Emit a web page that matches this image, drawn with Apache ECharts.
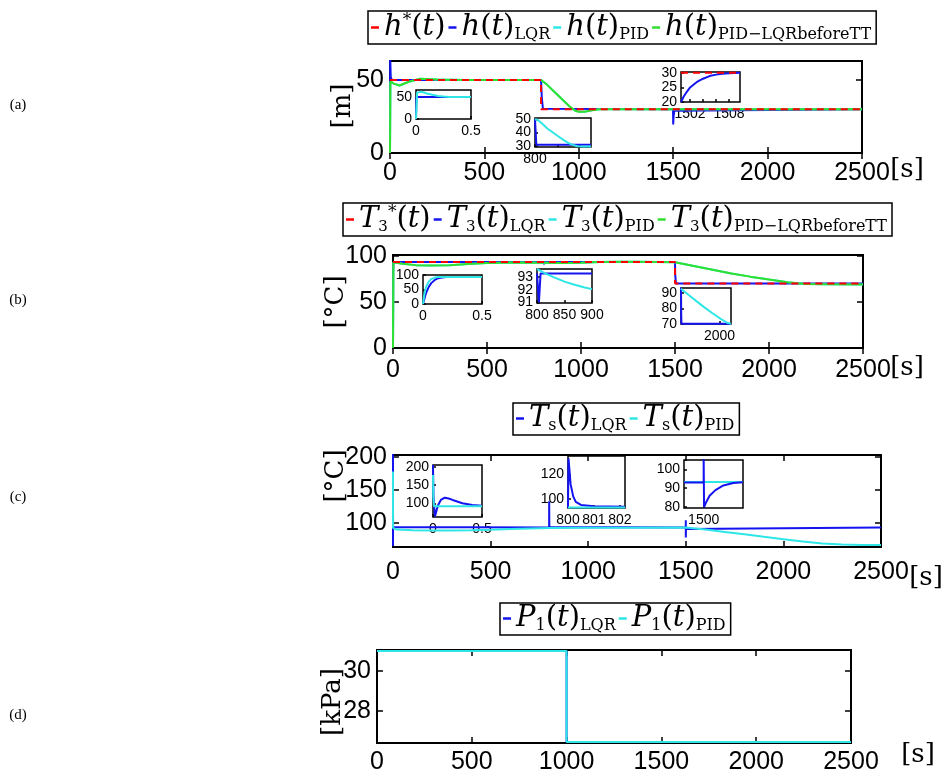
<!DOCTYPE html>
<html><head><meta charset="utf-8">
<script src="https://cdn.jsdelivr.net/npm/echarts@6/dist/echarts.min.js"></script>
<style>html,body{margin:0;padding:0;background:#fff}#c{width:945px;height:779px}</style>
</head><body><div id="c"></div>
<script>
// ================= DATA =================
const mainXTicks = [0, 500, 1000, 1500, 2000, 2500];

// (a) level h [m]
const aRefT = [0, 800, 800, 2500];
const aRefV = [50, 50, 30, 30];
const aLqrT = [0, 1, 4, 10, 800, 804, 810, 1499, 1500, 1502, 1506, 1512, 2500];
const aLqrV = [0, 66, 52, 50, 50, 38, 30.3, 30, 19.5, 25, 29, 30, 30];
const aPidT = [0, 2, 20, 50, 100, 160, 250, 400, 800, 830, 870, 910, 950, 980, 1000, 1030, 1070, 1110, 1200, 2500];
const aPidV = [0, 49, 47.5, 46.2, 48.8, 50.8, 50.3, 50, 50, 47, 42, 37, 32, 29, 28.2, 28.3, 29.2, 29.9, 30, 30];
const aMixT = [0, 2, 20, 50, 100, 160, 250, 400, 800, 830, 870, 910, 950, 980, 1000, 1030, 1070, 1110, 1200, 2500];
const aMixV = [0, 49, 47.5, 46.2, 48.8, 50.8, 50.3, 50, 50, 47, 42, 37, 32, 29, 28.2, 28.3, 29.2, 29.9, 30, 30];
// inset a1 (0 - 0.5 s)
const a1LqrT = [0, 0.004, 0.5];
const a1LqrV = [0, 50, 50];
const a1PidT = [0, 0.01, 0.025, 0.05, 0.1, 0.15, 0.2, 0.25, 0.3, 0.5];
const a1PidV = [0, 60, 64, 62, 58, 55, 52.5, 51, 50.3, 50];
// inset a2 (800 - 1050 s)
const a2LqrT = [800, 803, 806, 1050];
const a2LqrV = [50, 50, 30.7, 30.7];
const a2PidT = [800, 813, 830, 855, 880, 905, 930, 950, 970, 990, 1010, 1050];
const a2PidV = [50, 49.5, 47, 43, 40, 37, 34, 32, 30.5, 29.6, 29.3, 29.4];
// inset a3 (1500.6 - 1509.7 s)
const a3RefT = [1500.6, 1509.7];
const a3RefV = [30, 30];
const a3LqrT = [1500.6, 1501, 1501.5, 1502, 1503, 1504, 1505, 1506, 1507, 1508, 1509.7];
const a3LqrV = [20, 21.8, 23.5, 25, 26.8, 28, 28.9, 29.4, 29.7, 29.85, 30];

// (b) temperature T3 [°C]
const bRefT = [0, 1500, 1500, 2500];
const bRefV = [93.5, 93.5, 70, 70];
const bLqrT = [0, 1, 3, 800, 802, 803, 806, 807, 1500, 1501, 1505, 2500];
const bLqrV = [0, 85, 93.5, 93.5, 93.5, 91, 91, 93.5, 93.5, 80, 70, 70];
const bPidT = [0, 2, 50, 120, 200, 300, 400, 500, 650, 800, 900, 1000, 1100, 1200, 1300, 1400, 1500, 1600, 1700, 1800, 1900, 2000, 2100, 2150, 2200, 2300, 2500];
const bPidV = [0, 93, 91.5, 90, 89.5, 90, 91.2, 92.3, 92.8, 92.5, 92.2, 92.6, 93.3, 93.6, 93.7, 93.5, 93.2, 89, 85, 81, 77.5, 74.3, 71.3, 70.2, 69.5, 69.1, 69];
const bMixT = [0, 2, 50, 120, 200, 300, 400, 500, 650, 800, 900, 1000, 1100, 1200, 1300, 1400, 1500, 1600, 1700, 1800, 1900, 2000, 2100, 2150, 2200, 2300, 2500];
const bMixV = [0, 93, 91.5, 90, 89.5, 90, 91.2, 92.3, 92.8, 92.5, 92.2, 92.6, 93.3, 93.6, 93.7, 93.5, 93.2, 89, 85, 81, 77.5, 74.3, 71.3, 70.2, 69.5, 69.1, 69];
// inset b1 (0 - 0.5 s)
const b1T = [0, 0.01, 0.02, 0.03, 0.05, 0.07, 0.1, 0.13, 0.16, 0.2, 0.3, 0.5];
const b1LqrV = [0, 15, 30, 42, 60, 72, 83, 89, 91.5, 92.8, 93.3, 93.5];
const b1PidV = [0, 30, 50, 63, 78, 86, 91, 92.8, 93.3, 93.5, 93.5, 93.5];
// inset b2 (800 - 900 s)
const b2LqrT = [800, 802.5, 803.5, 805.5, 806.5, 900];
const b2LqrV = [93.3, 93.3, 91.0, 91.0, 93.3, 93.3];
const b2PidT = [800, 803, 815, 830, 850, 870, 885, 900];
const b2PidV = [93.65, 93.6, 93.3, 93.0, 92.65, 92.38, 92.2, 92.05];
// inset b3 (1500 - 2150 s)
const b3LqrT = [1500, 1503, 1506, 2150];
const b3LqrV = [93.3, 75, 70.2, 70.2];
const b3PidT = [1500, 1600, 1700, 1800, 1900, 2000, 2100, 2150];
const b3PidV = [92.5, 88.5, 84.6, 80.8, 77.2, 73.8, 70.8, 70.2];

// (c) temperature Ts [°C]
const cLqrT = [0, 0.02, 0.12, 0.5, 3, 799.9, 800, 801, 802, 1499.9, 1500, 1500.05, 1501, 1503, 2500];
const cLqrV = [205, 65, 115, 94, 93, 93, 133, 94, 93.2, 93, 104, 78, 91, 93, 93];
const cPidT = [0, 0.01, 20, 100, 200, 300, 400, 500, 600, 700, 800, 1000, 1200, 1500, 1600, 1700, 1800, 1900, 2000, 2100, 2200, 2300, 2400, 2500];
const cPidV = [178, 92.7, 90, 89, 88.5, 88.5, 89, 89.8, 90.8, 91.8, 92.3, 92.6, 92.8, 93, 90, 86.5, 83, 79, 75.5, 72, 69, 67.5, 66.8, 66.5];
// inset c1 (0 - 0.5 s)
const c1LqrT = [0, 0.005, 0.02, 0.05, 0.08, 0.12, 0.16, 0.2, 0.3, 0.4, 0.5];
const c1LqrV = [205, 120, 65, 95, 110, 116, 114, 110, 101, 96, 94];
const c1PidT = [0, 0.003, 0.01, 0.5];
const c1PidV = [178, 120, 92.7, 92.7];
// inset c2 (800 - 802.2 s)
const c2LqrT = [800, 800.02, 800.1, 800.2, 800.3, 800.5, 801, 802.2];
const c2LqrV = [93, 133, 112, 102, 97.5, 95, 94, 93.5];
const c2PidT = [800, 802.2];
const c2PidV = [93, 93];
// inset c3 (1499 - 1502 s)
const c3LqrT = [1499, 1500, 1500, 1500.02, 1500.1, 1500.3, 1500.6, 1501, 1501.5, 1502];
const c3LqrV = [93, 93, 105.5, 80, 82, 86, 89, 91.5, 92.8, 93.2];
const c3PidT = [1499, 1502];
const c3PidV = [93.3, 93.3];

// (d) pressure P1 [kPa]
const dT = [0, 1000, 1000, 2500];
const dLqrV = [31.0, 31.0, 26.45, 26.45];
const dPidV = [31.0, 31.0, 26.45, 26.45];

// ================= BUILD =================
const BLUE = '#1414f0', CYAN = '#2fe6e6', GREEN = '#2fe02f', RED = '#ff0000';
const SANS = 'Liberation Sans', SERIF = 'DejaVu Serif';
const grids = [], xAxes = [], yAxes = [], series = [];
const zip = (t, v) => t.map((x, i) => [x, v[i]]);
const fmt = v => String(v);

function panel(p) {
  const gi = grids.length;
  grids.push({ left: p.l, top: p.t, width: p.w, height: p.h, show: true,
    borderColor: '#000', borderWidth: p.main ? 2 : 1.5, backgroundColor: p.main ? 'rgba(0,0,0,0)' : '#fff' });
  const fs = p.main ? 25 : 14, tl = p.main ? 6 : 3;
  const xi = xAxes.length, yi = yAxes.length;
  const xTicks = p.xTicks, yTicks = p.yTicks;
  const lab = (vals, m) => ({ show: true, interval: 0, customValues: vals, formatter: fmt, fontSize: fs, fontFamily: SANS,
    color: '#000', margin: m, showMinLabel: true, showMaxLabel: true, hideOverlap: false, lineHeight: fs });
  const tick = (vals) => ({ show: true, inside: true, length: tl, customValues: vals, lineStyle: { color: '#000', width: 1.5 } });
  xAxes.push({ type: 'value', gridIndex: gi, min: p.xMin, max: p.xMax, position: 'bottom',
    axisLine: { show: false }, splitLine: { show: false }, axisTick: tick(xTicks),
    axisLabel: lab(p.xLabels || xTicks, p.xm) });
  // y labels split over two overlaid axes so that tightly packed inset labels all stay visible
  const yl = p.yLabels || yTicks;
  const yEven = yl.filter((v, i) => i % 2 === 0), yOdd = yl.filter((v, i) => i % 2 === 1);
  yAxes.push({ type: 'value', gridIndex: gi, min: p.yMin, max: p.yMax, position: 'left',
    axisLine: { show: false }, splitLine: { show: false }, axisTick: tick(yTicks),
    axisLabel: lab(yEven, p.ym) });
  if (yOdd.length) {
    yAxes.push({ type: 'value', gridIndex: gi, min: p.yMin, max: p.yMax, position: 'left', offset: 0,
      axisLine: { show: false }, splitLine: { show: false }, axisTick: { show: false },
      axisLabel: lab(yOdd, p.ym) });
  }
  if (p.main) {
    xAxes.push({ type: 'value', gridIndex: gi, min: p.xMin, max: p.xMax, position: 'top',
      axisLine: { show: false }, splitLine: { show: false }, axisLabel: { show: false }, axisTick: tick(xTicks) });
    yAxes.push({ type: 'value', gridIndex: gi, min: p.yMin, max: p.yMax, position: 'right',
      axisLine: { show: false }, splitLine: { show: false }, axisLabel: { show: false }, axisTick: tick(yTicks) });
  }
  return { xi, yi };
}
function line(ax, name, t, v, color, z, dashed) {
  series.push({ type: 'line', name: name, xAxisIndex: ax.xi, yAxisIndex: ax.yi, data: zip(t, v),
    showSymbol: false, symbol: 'none', animation: false, z: z, color: color, clip: true,
    lineStyle: { color: color, width: 2, type: dashed ? [7, 5] : 'solid' }, itemStyle: { color: color } });
}

// ---- panel (a)
const A = panel({ main: true, l: 390, t: 61, w: 472, h: 92, xMin: 0, xMax: 2500, xTicks: mainXTicks, yMin: 0, yMax: 63, yTicks: [0, 50], xm: 8, ym: 6 });
line(A, 'h*(t)', aRefT, aRefV, RED, 6, true);
line(A, 'h(t)LQR', aLqrT, aLqrV, BLUE, 3);
line(A, 'h(t)PID', aPidT, aPidV, CYAN, 4);
line(A, 'h(t)PID-LQRbeforeTT', aMixT, aMixV, GREEN, 5);
const A1 = panel({ l: 416, t: 90, w: 55, h: 29, xMin: 0, xMax: 0.5, xTicks: [0, 0.5], yMin: 0, yMax: 66, yTicks: [0, 50], xm: 5, ym: 4 });
line(A1, 'a1lqr', a1LqrT, a1LqrV, BLUE, 3);
line(A1, 'a1pid', a1PidT, a1PidV, CYAN, 4);
const A2 = panel({ l: 535, t: 118, w: 56, h: 29, xMin: 800, xMax: 1050, xTicks: [800, 900, 1000], xLabels: [800], yMin: 29, yMax: 51, yTicks: [30, 40, 50], xm: 5, ym: 4 });
line(A2, 'a2lqr', a2LqrT, a2LqrV, BLUE, 3);
line(A2, 'a2pid', a2PidT, a2PidV, CYAN, 4);
const A3 = panel({ l: 681, t: 72, w: 59, h: 30, xMin: 1500.6, xMax: 1509.7, xTicks: [1502, 1504, 1506, 1508], xLabels: [1502, 1508], yMin: 20, yMax: 30.3, yTicks: [20, 25, 30], xm: 5, ym: 4 });
line(A3, 'a3lqr', a3LqrT, a3LqrV, BLUE, 3);
line(A3, 'a3ref', a3RefT, a3RefV, RED, 6, true);

// ---- panel (b)
const B = panel({ main: true, l: 393, t: 255, w: 470, h: 93, xMin: 0, xMax: 2500, xTicks: mainXTicks, yMin: 0, yMax: 101, yTicks: [0, 50, 100], xm: 10, ym: 6 });
line(B, 'T3*(t)', bRefT, bRefV, RED, 6, true);
line(B, 'T3(t)LQR', bLqrT, bLqrV, BLUE, 3);
line(B, 'T3(t)PID', bPidT, bPidV, CYAN, 4);
line(B, 'T3(t)PID-LQRbeforeTT', bMixT, bMixV, GREEN, 5);
const B1 = panel({ l: 423, t: 275, w: 59, h: 29, xMin: 0, xMax: 0.5, xTicks: [0, 0.5], yMin: 0, yMax: 100, yTicks: [0, 50, 100], xm: 5, ym: 4 });
line(B1, 'b1lqr', b1T, b1LqrV, BLUE, 3);
line(B1, 'b1pid', b1T, b1PidV, CYAN, 4);
const B2 = panel({ l: 537, t: 269, w: 55, h: 34, xMin: 800, xMax: 900, xTicks: [800, 850, 900], yMin: 90.95, yMax: 93.65, yTicks: [91, 92, 93], xm: 5, ym: 4 });
line(B2, 'b2lqr', b2LqrT, b2LqrV, BLUE, 3);
line(B2, 'b2pid', b2PidT, b2PidV, CYAN, 4);
const B3 = panel({ l: 681, t: 288, w: 50, h: 36, xMin: 1500, xMax: 2150, xTicks: [2000], yMin: 70, yMax: 93, yTicks: [70, 80, 90], xm: 5, ym: 4 });
line(B3, 'b3lqr', b3LqrT, b3LqrV, BLUE, 3);
line(B3, 'b3pid', b3PidT, b3PidV, CYAN, 4);

// ---- panel (c)
const C = panel({ main: true, l: 393, t: 455, w: 488, h: 92, xMin: 0, xMax: 2500, xTicks: mainXTicks, yMin: 63.6, yMax: 203, yTicks: [100, 150, 200], xm: 13, ym: 6 });
line(C, 'Ts(t)LQR', cLqrT, cLqrV, BLUE, 3);
line(C, 'Ts(t)PID', cPidT, cPidV, CYAN, 4);
const C1 = panel({ l: 433, t: 465, w: 49, h: 52, xMin: 0, xMax: 0.5, xTicks: [0, 0.5], yMin: 63.6, yMax: 205, yTicks: [100, 150, 200], xm: 5, ym: 4 });
line(C1, 'c1lqr', c1LqrT, c1LqrV, BLUE, 3);
line(C1, 'c1pid', c1PidT, c1PidV, CYAN, 4);
const C2 = panel({ l: 568, t: 456, w: 57, h: 52, xMin: 800, xMax: 802.2, xTicks: [800, 801, 802], yMin: 92.5, yMax: 135, yTicks: [100, 120], xm: 5, ym: 4 });
line(C2, 'c2lqr', c2LqrT, c2LqrV, BLUE, 3);
line(C2, 'c2pid', c2PidT, c2PidV, CYAN, 4);
const C3 = panel({ l: 684, t: 460, w: 59, h: 48, xMin: 1499, xMax: 1502, xTicks: [1500], yMin: 79.5, yMax: 105, yTicks: [80, 90, 100], xm: 5, ym: 4 });
line(C3, 'c3pid', c3PidT, c3PidV, CYAN, 3);
line(C3, 'c3lqr', c3LqrT, c3LqrV, BLUE, 4);

// ---- panel (d)
const D = panel({ main: true, l: 377, t: 650, w: 474, h: 93, xMin: 0, xMax: 2500, xTicks: mainXTicks, yMin: 26.4, yMax: 31.05, yTicks: [28, 30], xm: 7, ym: 6 });
line(D, 'P1(t)LQR', dT, dLqrV, BLUE, 3);
line(D, 'P1(t)PID', dT, dPidV, CYAN, 4);

// ---- legends (rich text)
const richMap = {
  'h*(t)': '{i|h}{sup|*}{r|(}{i|t}{r|)}',
  'h(t)LQR': '{i|h}{r|(}{i|t}{r|)}{sub|LQR}',
  'h(t)PID': '{i|h}{r|(}{i|t}{r|)}{sub|PID}',
  'h(t)PID-LQRbeforeTT': '{i|h}{r|(}{i|t}{r|)}{sub|PID\u2212LQRbeforeTT}',
  'T3*(t)': '{i|T}{sub3|3}{sup|*}{r|(}{i|t}{r|)}',
  'T3(t)LQR': '{i|T}{sub3|3}{r|(}{i|t}{r|)}{sub|LQR}',
  'T3(t)PID': '{i|T}{sub3|3}{r|(}{i|t}{r|)}{sub|PID}',
  'T3(t)PID-LQRbeforeTT': '{i|T}{sub3|3}{r|(}{i|t}{r|)}{sub|PID\u2212LQRbeforeTT}',
  'Ts(t)LQR': '{i|T}{sub|s}{r|(}{i|t}{r|)}{sub|LQR}',
  'Ts(t)PID': '{i|T}{sub|s}{r|(}{i|t}{r|)}{sub|PID}',
  'P1(t)LQR': '{i|P}{sub|1}{r|(}{i|t}{r|)}{sub|LQR}',
  'P1(t)PID': '{i|P}{sub|1}{r|(}{i|t}{r|)}{sub|PID}'
};
const rich = {
  i: { fontFamily: SERIF, fontStyle: 'italic', fontSize: 29, lineHeight: 31, color: '#000' },
  r: { fontFamily: SERIF, fontSize: 29, lineHeight: 31, color: '#000' },
  sub: { fontFamily: SERIF, fontSize: 16, lineHeight: 16, verticalAlign: 'bottom', color: '#000' },
  sub3: { fontFamily: SERIF, fontSize: 15, lineHeight: 16, verticalAlign: 'bottom', color: '#000' },
  sup: { fontFamily: SERIF, fontSize: 17, lineHeight: 17, verticalAlign: 'top', color: '#000' }
};
function legend(names, left, top) {
  return { data: names, left: left, top: top, orient: 'horizontal', selectedMode: false,
    icon: 'rect', itemWidth: 8, itemHeight: 2.5, itemGap: 3, padding: [1, 5, 1, 3],
    borderColor: '#000', borderWidth: 1.5, backgroundColor: '#fff',
    formatter: n => richMap[n], textStyle: { rich: rich, fontSize: 29, fontFamily: SERIF } };
}
const legends = [
  legend(['h*(t)', 'h(t)LQR', 'h(t)PID', 'h(t)PID-LQRbeforeTT'], 368, 11),
  legend(['T3*(t)', 'T3(t)LQR', 'T3(t)PID', 'T3(t)PID-LQRbeforeTT'], 343, 203),
  legend(['Ts(t)LQR', 'Ts(t)PID'], 513, 403),
  legend(['P1(t)LQR', 'P1(t)PID'], 500, 603)
];

// ---- free text: panel tags, units
function txt(s, x, y, size, rot, family) {
  return { type: 'text', x: x, y: y, rotation: rot || 0, silent: true,
    style: { text: s, fontSize: size, fontFamily: family || SERIF, fill: '#000', align: 'center', verticalAlign: 'middle', textAlign: 'center', textVerticalAlign: 'middle' } };
}
const R = Math.PI / 2;
const TAG = 'Liberation Serif';
const graphics = [
  txt('(a)', 18, 105, 15, 0, TAG), txt('(b)', 18, 300, 15, 0, TAG),
  txt('(c)', 18, 497, 15, 0, TAG), txt('(d)', 18, 715, 15, 0, TAG),
  txt('[m]', 343, 106, 26, R), txt('[\u00B0C]', 336, 302, 26, R),
  txt('[\u00B0C]', 336, 476, 26, R), txt('[kPa]', 333, 702, 26, R),
  txt('[s]', 907, 170, 26), txt('[s]', 907, 368, 26),
  txt('[s]', 926, 578, 26), txt('[s]', 918, 755, 26)
];

const chart = echarts.init(document.getElementById('c'));
chart.setOption({
  animation: false, backgroundColor: '#fff',
  grid: grids, xAxis: xAxes, yAxis: yAxes, series: series, legend: legends,
  graphic: graphics
});
</script></body></html>
